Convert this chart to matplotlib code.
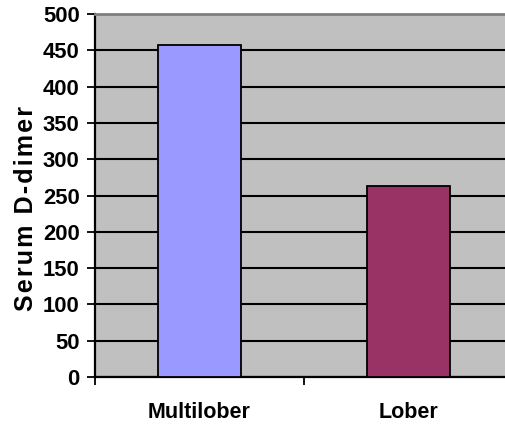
import matplotlib
matplotlib.use("Agg")
import matplotlib.pyplot as plt
from matplotlib import font_manager
from matplotlib.ticker import FixedLocator

categories = ["Multilober", "Lober"]
values = [457, 263]
bar_colors = ["#9999FF", "#993366"]
y_ticks = [0, 50, 100, 150, 200, 250, 300, 350, 400, 450, 500]
y_label = "Serum D-dimer"

# condensed face for the category labels if one is installed
try:
    font_manager.findfont(font_manager.FontProperties(family="Liberation Sans Narrow",
                                                      weight="bold"),
                          fallback_to_default=False)
    cat_family, cat_size = ["Liberation Sans Narrow", "DejaVu Sans"], 19
except Exception:
    cat_family, cat_size = ["Liberation Sans", "DejaVu Sans"], 15.5

base = ["Liberation Sans", "DejaVu Sans"]

W, H = 505, 434
fig = plt.figure(figsize=(W / 100, H / 100), dpi=100)
# plot area runs slightly past the right edge of the canvas
ax = fig.add_axes([95 / W, 57 / H, 418 / W, 363 / H])
ax.set_facecolor("#C0C0C0")

x = list(range(len(categories)))
ax.set_xlim(-0.5, len(categories) - 0.5)
ax.set_ylim(0, 500)

ax.set_yticks(y_ticks)
ax.yaxis.grid(True, color="black", linewidth=1.5)
ax.set_axisbelow(True)

ax.bar(x, values, width=0.4, color=bar_colors, edgecolor="black",
       linewidth=1.3, zorder=3)

# category labels on major ticks, boundary tick marks on minor ticks
ax.set_xticks(x)
ax.set_xticklabels(categories)
ax.xaxis.set_minor_locator(FixedLocator([-0.5, 0.5, 1.5]))
ax.tick_params(axis="x", which="major", length=0, pad=18)
ax.tick_params(axis="x", which="minor", length=5.5, width=1.3, color="black")
ax.tick_params(axis="y", length=5.5, width=1.3, color="black", pad=5.5)

for lab in ax.get_xticklabels():
    lab.set_fontfamily(cat_family)
    lab.set_fontweight("bold")
    lab.set_fontsize(cat_size)
for lab in ax.get_yticklabels():
    lab.set_fontfamily(base)
    lab.set_fontweight("bold")
    lab.set_fontsize(15.8)

# letter-spaced axis title
ax.set_ylabel("\u200a".join(y_label), fontfamily=base, fontweight="bold",
              fontsize=18)
ax.yaxis.set_label_coords(-57 / 418, 0.464)

for side in ("left", "bottom"):
    ax.spines[side].set_color("black")
    ax.spines[side].set_linewidth(1.6)
ax.spines["top"].set_color("#808080")
ax.spines["top"].set_linewidth(2)
ax.spines["right"].set_visible(False)

fig.savefig("out.png", dpi=100)
